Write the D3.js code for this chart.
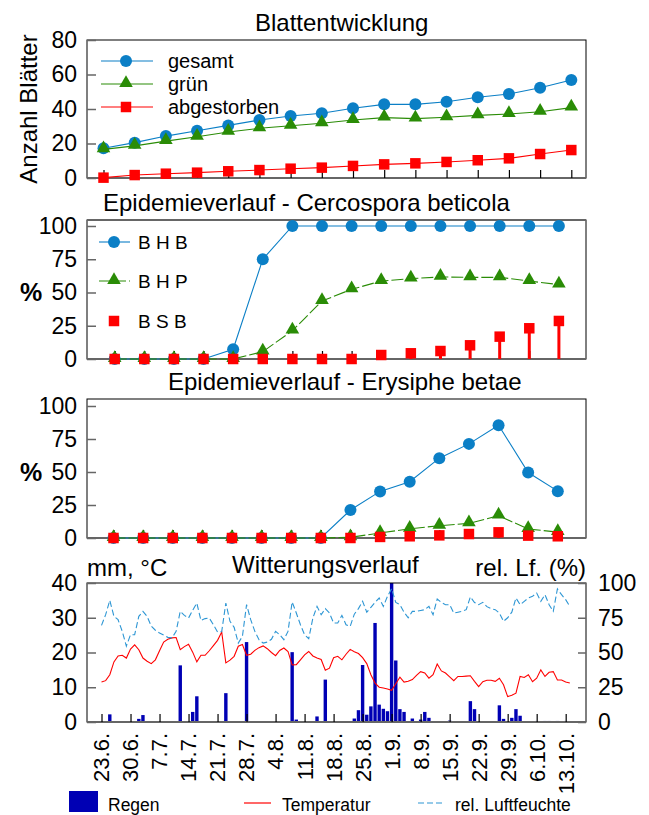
<!DOCTYPE html>
<html>
<head>
<meta charset="utf-8">
<script src="https://cdn.jsdelivr.net/npm/d3@7/dist/d3.min.js"></script>
<style>
  body { margin: 0; background: #fff; }
  text { font-family: "Liberation Sans", Arial, Helvetica, sans-serif; fill: #000; }
</style>
</head>
<body>
<svg id="chart" width="649" height="815"></svg>
<script>
// ---- Assessment dates (16 ratings) ----
const ratings = d3.range(16);

// ---- Blattentwicklung (Anzahl Blätter) ----
const leafTotal = [17.2, 20.5, 24.3, 27.4, 30.5, 33.6, 35.9, 37.5, 40.4, 42.7, 42.7, 44.2, 46.8, 48.7, 52.3, 56.8];
const leafGreen = [16.6, 18.6, 21.4, 23.9, 26.7, 28.8, 30.3, 31.7, 33.6, 35.0, 34.4, 35.2, 36.3, 37.1, 38.4, 40.8];
const leafDead  = [0.2, 1.7, 2.5, 3.1, 3.9, 4.6, 5.4, 6.0, 7.0, 7.9, 8.5, 9.3, 10.3, 11.4, 13.9, 16.2];

// ---- Cercospora beticola (%) ----
const cercBHB = [0, 0, 0, 0, 7.3, 75, 100, 100, 100, 100, 100, 100, 100, 100, 100, 100];
const cercBHP = [0, 0, 0, 0, 0, 5.5, 21.3, 43.6, 52.4, 58.6, 60.4, 61.7, 61.4, 61.4, 58.6, 55.9];
const cercBSB = [0, 0, 0, 0, 0, 0, 0, 0, 0, 3.0, 4.3, 6.0, 10.3, 16.8, 23.1, 28.6];

// ---- Erysiphe betae (%) ----
const erysBHB = [0, 0, 0, 0, 0, 0, 0, 0, 21.2, 35.3, 42.6, 60.5, 71.3, 85.4, 49.6, 35.5];
const erysBHP = [0, 0, 0, 0, 0, 0, 0, 0, 0.5, 3.8, 7.0, 9.3, 11.1, 16.9, 6.8, 4.5];
const erysBSB = [0, 0, 0, 0, 0, 0, 0, 0, 0, 0.8, 1.3, 2.0, 3.0, 4.3, 1.8, 1.3];

// ---- Witterung: daily values from 23.6. (day 0) ----
const weekLabels = ["23.6.", "30.6.", "7.7.", "14.7.", "21.7.", "28.7.", "4.8.", "11.8.", "18.8.",
                    "25.8.", "1.9.", "8.9.", "15.9.", "22.9.", "29.9.", "6.10.", "13.10."];

const rain = [
  0, 0, 2.2, 0, 0, 0, 0, 0, 0, 0.9,
  2.0, 0, 0, 0, 0, 0, 0, 0, 0, 16.3,
  0, 0, 2.9, 7.4, 0, 0, 0.2, 0, 0, 0,
  8.3, 0, 0, 0, 0, 23.0, 0, 0, 0, 0,
  0, 0, 0, 0, 0, 0, 20.1, 0.7, 0, 0,
  0, 0, 1.6, 0, 12.2, 0, 0.2, 0, 0, 0,
  0, 1.0, 3.4, 16.4, 2.1, 4.5, 28.5, 5.0, 3.8, 3.1,
  40.0, 17.7, 3.7, 2.9, 0, 1.0, 0, 0.7, 2.9, 1.2,
  0, 0, 0, 0, 0.4, 0.2, 0, 0, 0, 6.0,
  3.7, 0, 0, 0, 0, 0, 4.8, 0.9, 0, 1.2,
  3.7, 1.8, 0, 0, 0, 0.3, 0, 0.3, 0.3, 0,
  0.3, 0, 0.3, 0
];

const temperature = [
  11.5, 11.9, 13.6, 17.3, 19.0, 19.2, 18.4, 21.0, 22.2, 20.8,
  18.4, 17.5, 16.8, 17.9, 20.5, 23.0, 23.8, 24.2, 24.3, 20.8,
  21.7, 22.4, 20.1, 17.3, 19.2, 19.2, 20.5, 22.0, 23.5, 25.9,
  17.0, 17.8, 18.9, 21.8, 22.3, 19.2, 19.5, 20.6, 21.4, 21.9,
  21.1, 20.0, 19.1, 20.6, 21.3, 20.3, 16.4, 16.5, 17.9, 19.3,
  20.3, 19.0, 18.4, 18.0, 14.9, 15.5, 18.5, 18.9, 17.9, 19.5,
  20.9, 20.2, 19.7, 18.5, 16.8, 13.6, 11.2, 10.0, 9.8, 9.5,
  9.1, 11.0, 12.9, 11.5, 11.7, 12.2, 13.4, 14.5, 14.1, 12.6,
  13.6, 16.7, 14.7, 14.1, 13.0, 11.9, 13.1, 13.1, 13.2, 13.3,
  11.7, 10.2, 11.6, 12.0, 12.0, 11.7, 12.6, 10.7, 7.3, 7.7,
  8.3, 13.1, 12.8, 13.6, 11.6, 12.6, 15.0, 13.1, 14.3, 14.5,
  12.1, 12.1, 11.5, 11.2
];

const humidity = [
  69.5, 77.2, 87.5, 76.0, 73.6, 65.2, 54.6, 62.8, 62.8, 76.0,
  79.6, 76.0, 69.0, 66.0, 64.0, 62.5, 60.9, 60.5, 65.2, 79.6,
  76.7, 74.8, 80.4, 85.6, 73.0, 74.4, 74.8, 70.0, 64.7, 65.0,
  85.6, 72.4, 68.1, 56.8, 61.6, 84.4, 73.6, 65.2, 59.2, 56.8,
  57.5, 59.5, 65.2, 62.8, 59.2, 65.2, 86.4, 78.4, 70.0, 62.8,
  59.9, 74.8, 83.2, 77.2, 81.6, 78.4, 71.2, 71.2, 76.7, 70.0,
  68.8, 77.6, 81.6, 86.9, 79.0, 82.5, 86.0, 89.2, 83.2, 90.4,
  95.9, 86.0, 84.4, 79.0, 75.0, 79.6, 79.6, 80.2, 80.8, 83.2,
  77.2, 88.5, 86.0, 84.4, 84.4, 78.4, 79.0, 79.6, 80.8, 90.0,
  86.0, 84.4, 86.1, 83.0, 81.5, 80.8, 78.4, 72.4, 75.0, 79.0,
  89.2, 84.4, 86.8, 89.2, 90.4, 92.8, 86.8, 91.6, 84.4, 79.6,
  95.7, 91.6, 88.0, 83.2
];

// ---- styles ----
const C_BLUE = "#0b7fc6", C_GREEN = "#2a8c06", C_RED = "#ff0000";
const C_RAIN = "#0000b4", C_HUM = "#2d96d4";
const FONT_TICK = 23, FONT_TITLE = 24;

const svg = d3.select("#chart");
const LEFT = 87, RIGHT = 586;

function frame(g, top, bottom, topGray) {
  g.append("rect").attr("x", LEFT).attr("y", top)
    .attr("width", RIGHT - LEFT).attr("height", bottom - top)
    .attr("fill", "none").attr("stroke", "#000").attr("stroke-width", 1);
  g.append("line").attr("x1", LEFT).attr("x2", RIGHT).attr("y1", bottom).attr("y2", bottom)
    .attr("stroke", "#666").attr("stroke-width", 2);
  if (topGray) {
    g.append("line").attr("x1", LEFT).attr("x2", RIGHT).attr("y1", top).attr("y2", top)
      .attr("stroke", "#666").attr("stroke-width", 2);
  }
}

function leftAxis(g, y, values) {
  const ax = g.append("g").attr("transform", `translate(${LEFT},0)`)
    .call(d3.axisLeft(y).tickValues(values).tickSizeInner(-9).tickSizeOuter(0).tickPadding(10));
  ax.select(".domain").remove();
  ax.selectAll(".tick line").attr("stroke", "#666").attr("stroke-width", 1.5);
  ax.selectAll(".tick text").attr("font-size", FONT_TICK).attr("fill", "#000")
    .attr("font-family", "Liberation Sans, Arial, sans-serif");
  return ax;
}

function bottomTicks(g, x, values, bottom) {
  const ax = g.append("g").attr("transform", `translate(0,${bottom})`)
    .call(d3.axisBottom(x).tickValues(values).tickSize(-8).tickFormat(""));
  ax.select(".domain").remove();
  ax.selectAll(".tick line").attr("stroke", "#000").attr("stroke-width", 1.2);
}

function title(txt, x, y) {
  svg.append("text").attr("x", x).attr("y", y).attr("font-size", FONT_TITLE).text(txt);
}

const tri = d3.symbol().type(d3.symbolTriangle).size(80);
const sq = d3.symbol().type(d3.symbolSquare).size(110);
const R_DOT = 6;

function drawSeries(g, x, y, data, kind) {
  const line = d3.line().x((d, i) => x(i)).y(d => y(d));
  if (kind === "circle") {
    g.append("path").attr("d", line(data)).attr("fill", "none").attr("stroke", C_BLUE).attr("stroke-width", 1.1);
    g.selectAll(null).data(data).join("circle")
      .attr("cx", (d, i) => x(i)).attr("cy", d => y(d)).attr("r", R_DOT).attr("fill", C_BLUE);
  } else if (kind === "triangle") {
    g.append("path").attr("d", line(data)).attr("fill", "none").attr("stroke", C_GREEN)
      .attr("stroke-width", 1.1).attr("stroke-dasharray", g.attr("data-dash") || null);
    g.selectAll(null).data(data).join("path").attr("d", tri)
      .attr("transform", (d, i) => `translate(${x(i)},${y(d) - 1})`).attr("fill", C_GREEN);
  } else if (kind === "square") {
    g.append("path").attr("d", line(data)).attr("fill", "none").attr("stroke", C_RED).attr("stroke-width", 1.1);
    g.selectAll(null).data(data).join("path").attr("d", sq)
      .attr("transform", (d, i) => `translate(${x(i)},${y(d)})`).attr("fill", C_RED);
  } else if (kind === "stem") {
    g.selectAll(null).data(data).join("line")
      .attr("x1", (d, i) => x(i)).attr("x2", (d, i) => x(i))
      .attr("y1", y(0)).attr("y2", d => y(d))
      .attr("stroke", C_RED).attr("stroke-width", 3);
    g.selectAll(null).data(data).join("path").attr("d", sq)
      .attr("transform", (d, i) => `translate(${x(i)},${y(d)})`).attr("fill", C_RED);
  }
}

// ================= Panel 1: Blattentwicklung =================
{
  const top = 40, bottom = 178;
  const g = svg.append("g");
  const x = d3.scaleLinear().domain([0, 15]).range([103.5, 571.3]);
  const y = d3.scaleLinear().domain([0, 80]).range([bottom, top]);
  title("Blattentwicklung", 255, 31);
  frame(g, top, bottom, false);
  leftAxis(g, y, [0, 20, 40, 60, 80]);
  bottomTicks(g, x, ratings, bottom);
  svg.append("text").attr("transform", `translate(37,${(top + bottom) / 2}) rotate(-90)`)
    .attr("text-anchor", "middle").attr("font-size", 24).text("Anzahl Blätter");

  drawSeries(g.append("g"), x, y, leafTotal, "circle");
  drawSeries(g.append("g"), x, y, leafGreen, "triangle");
  drawSeries(g.append("g"), x, y, leafDead, "square");

  // legend
  const leg = [
    { label: "gesamt", kind: "circle", color: C_BLUE, y: 61 },
    { label: "grün", kind: "triangle", color: C_GREEN, y: 84 },
    { label: "abgestorben", kind: "square", color: C_RED, y: 107 }
  ];
  leg.forEach(l => {
    g.append("line").attr("x1", 101).attr("x2", 153).attr("y1", l.y).attr("y2", l.y)
      .attr("stroke", l.color).attr("stroke-width", 1.1);
    if (l.kind === "circle") g.append("circle").attr("cx", 126).attr("cy", l.y).attr("r", R_DOT).attr("fill", l.color);
    if (l.kind === "triangle") g.append("path").attr("d", tri).attr("transform", `translate(126,${l.y - 1})`).attr("fill", l.color);
    if (l.kind === "square") g.append("path").attr("d", sq).attr("transform", `translate(126,${l.y})`).attr("fill", l.color);
    g.append("text").attr("x", 168).attr("y", l.y).attr("dy", "0.35em").attr("font-size", 20).text(l.label);
  });
}

// ================= Panel 2: Cercospora beticola =================
{
  const top = 220, bottom = 359;
  const g = svg.append("g");
  const x = d3.scaleLinear().domain([0, 15]).range([114.7, 558.9]);
  const y = d3.scaleLinear().domain([0, 104.5]).range([bottom, top]);
  title("Epidemieverlauf - Cercospora beticola", 103, 211);
  frame(g, top, bottom, true);
  leftAxis(g, y, [0, 25, 50, 75, 100]);
  bottomTicks(g, x, ratings, bottom);
  svg.append("text").attr("x", 31).attr("y", y(50)).attr("dy", "0.35em").attr("text-anchor", "middle")
    .attr("font-size", 25).attr("font-weight", "bold").text("%");

  drawSeries(g.append("g"), x, y, cercBHB, "circle");
  drawSeries(g.append("g").attr("data-dash", "12,3"), x, y, cercBHP, "triangle");
  drawSeries(g.append("g"), x, y, cercBSB, "stem");

  const leg = [
    { label: "B H B", kind: "circle", color: C_BLUE, y: 242 },
    { label: "B H P", kind: "triangle", color: C_GREEN, y: 281 },
    { label: "B S B", kind: "square", color: C_RED, y: 321 }
  ];
  leg.forEach(l => {
    if (l.kind !== "square") {
      g.append("line").attr("x1", 99).attr("x2", 130).attr("y1", l.y).attr("y2", l.y)
        .attr("stroke", l.color).attr("stroke-width", 1.1)
        .attr("stroke-dasharray", l.kind === "triangle" ? "12,3" : null);
    }
    if (l.kind === "circle") g.append("circle").attr("cx", 114).attr("cy", l.y).attr("r", R_DOT).attr("fill", l.color);
    if (l.kind === "triangle") g.append("path").attr("d", tri).attr("transform", `translate(114,${l.y - 1})`).attr("fill", l.color);
    if (l.kind === "square") g.append("path").attr("d", sq).attr("transform", `translate(114,${l.y})`).attr("fill", l.color);
    g.append("text").attr("x", 138).attr("y", l.y).attr("dy", "0.35em").attr("font-size", 19).text(l.label);
  });
}

// ================= Panel 3: Erysiphe betae =================
{
  const top = 399, bottom = 538;
  const g = svg.append("g");
  const x = d3.scaleLinear().domain([0, 15]).range([113.5, 557.8]);
  const y = d3.scaleLinear().domain([0, 105.3]).range([bottom, top]);
  title("Epidemieverlauf - Erysiphe betae", 168, 390);
  frame(g, top, bottom, false);
  leftAxis(g, y, [0, 25, 50, 75, 100]);
  bottomTicks(g, x, ratings, bottom);
  svg.append("text").attr("x", 31).attr("y", y(50)).attr("dy", "0.35em").attr("text-anchor", "middle")
    .attr("font-size", 25).attr("font-weight", "bold").text("%");

  drawSeries(g.append("g"), x, y, erysBHB, "circle");
  drawSeries(g.append("g").attr("data-dash", "12,3"), x, y, erysBHP, "triangle");
  drawSeries(g.append("g"), x, y, erysBSB, "stem");
}

// ================= Panel 4: Witterungsverlauf =================
{
  const top = 583, bottom = 722;
  const g = svg.append("g");
  const x = d3.scaleLinear().domain([-3.5, 116.9]).range([LEFT, RIGHT]);
  const yL = d3.scaleLinear().domain([0, 40]).range([bottom, top]);
  const yR = d3.scaleLinear().domain([0, 100]).range([bottom, top]);
  const weekDays = weekLabels.map((d, i) => i * 7);

  svg.append("text").attr("x", 87).attr("y", 576).attr("font-size", FONT_TITLE).text("mm, °C");
  svg.append("text").attr("x", 232).attr("y", 573).attr("font-size", FONT_TITLE).text("Witterungsverlauf");
  svg.append("text").attr("x", RIGHT).attr("y", 576).attr("text-anchor", "end").attr("font-size", FONT_TITLE).text("rel. Lf. (%)");

  // rain bars
  g.selectAll(null).data(rain).join("rect")
    .attr("x", (d, i) => x(i) - 1.7).attr("width", 3.4)
    .attr("y", d => yL(Math.min(d, 40))).attr("height", d => yL(0) - yL(Math.min(d, 40)))
    .attr("fill", C_RAIN);

  // temperature
  g.append("path").attr("d", d3.line().x((d, i) => x(i)).y(d => yL(d))(temperature))
    .attr("fill", "none").attr("stroke", C_RED).attr("stroke-width", 1.1);
  // relative humidity
  g.append("path").attr("d", d3.line().x((d, i) => x(i)).y(d => yR(d))(humidity))
    .attr("fill", "none").attr("stroke", C_HUM).attr("stroke-width", 1.1).attr("stroke-dasharray", "6,3");

  frame(g, top, bottom, false);
  leftAxis(g, yL, [0, 10, 20, 30, 40]);
  const axR = g.append("g").attr("transform", `translate(${RIGHT},0)`)
    .call(d3.axisRight(yR).tickValues([0, 25, 50, 75, 100]).tickSizeInner(-8).tickSizeOuter(0).tickPadding(12));
  axR.select(".domain").remove();
  axR.selectAll(".tick line").attr("stroke", "#666").attr("stroke-width", 1.5);
  axR.selectAll(".tick text").attr("font-size", FONT_TICK).attr("fill", "#000")
    .attr("font-family", "Liberation Sans, Arial, sans-serif");

  bottomTicks(g, x, weekDays, bottom);

  // rotated date labels
  svg.append("g").selectAll(null).data(weekLabels).join("text")
    .attr("transform", (d, i) => `translate(${x(weekDays[i])},733) rotate(-90)`)
    .attr("text-anchor", "end").attr("dy", "0.36em").attr("font-size", 22).text(d => d);

  // legend
  const lg = svg.append("g");
  lg.append("rect").attr("x", 69).attr("y", 791).attr("width", 29).attr("height", 21).attr("fill", C_RAIN);
  lg.append("text").attr("x", 108).attr("y", 811).attr("font-size", 17.5).text("Regen");
  lg.append("line").attr("x1", 244).attr("x2", 271).attr("y1", 803).attr("y2", 803)
    .attr("stroke", C_RED).attr("stroke-width", 1.2);
  lg.append("text").attr("x", 282).attr("y", 811).attr("font-size", 17.5).text("Temperatur");
  lg.append("line").attr("x1", 418).attr("x2", 445).attr("y1", 803).attr("y2", 803)
    .attr("stroke", C_HUM).attr("stroke-width", 1.2).attr("stroke-dasharray", "6,3");
  lg.append("text").attr("x", 455).attr("y", 811).attr("font-size", 17.5).text("rel. Luftfeuchte");
}
</script>
</body>
</html>
